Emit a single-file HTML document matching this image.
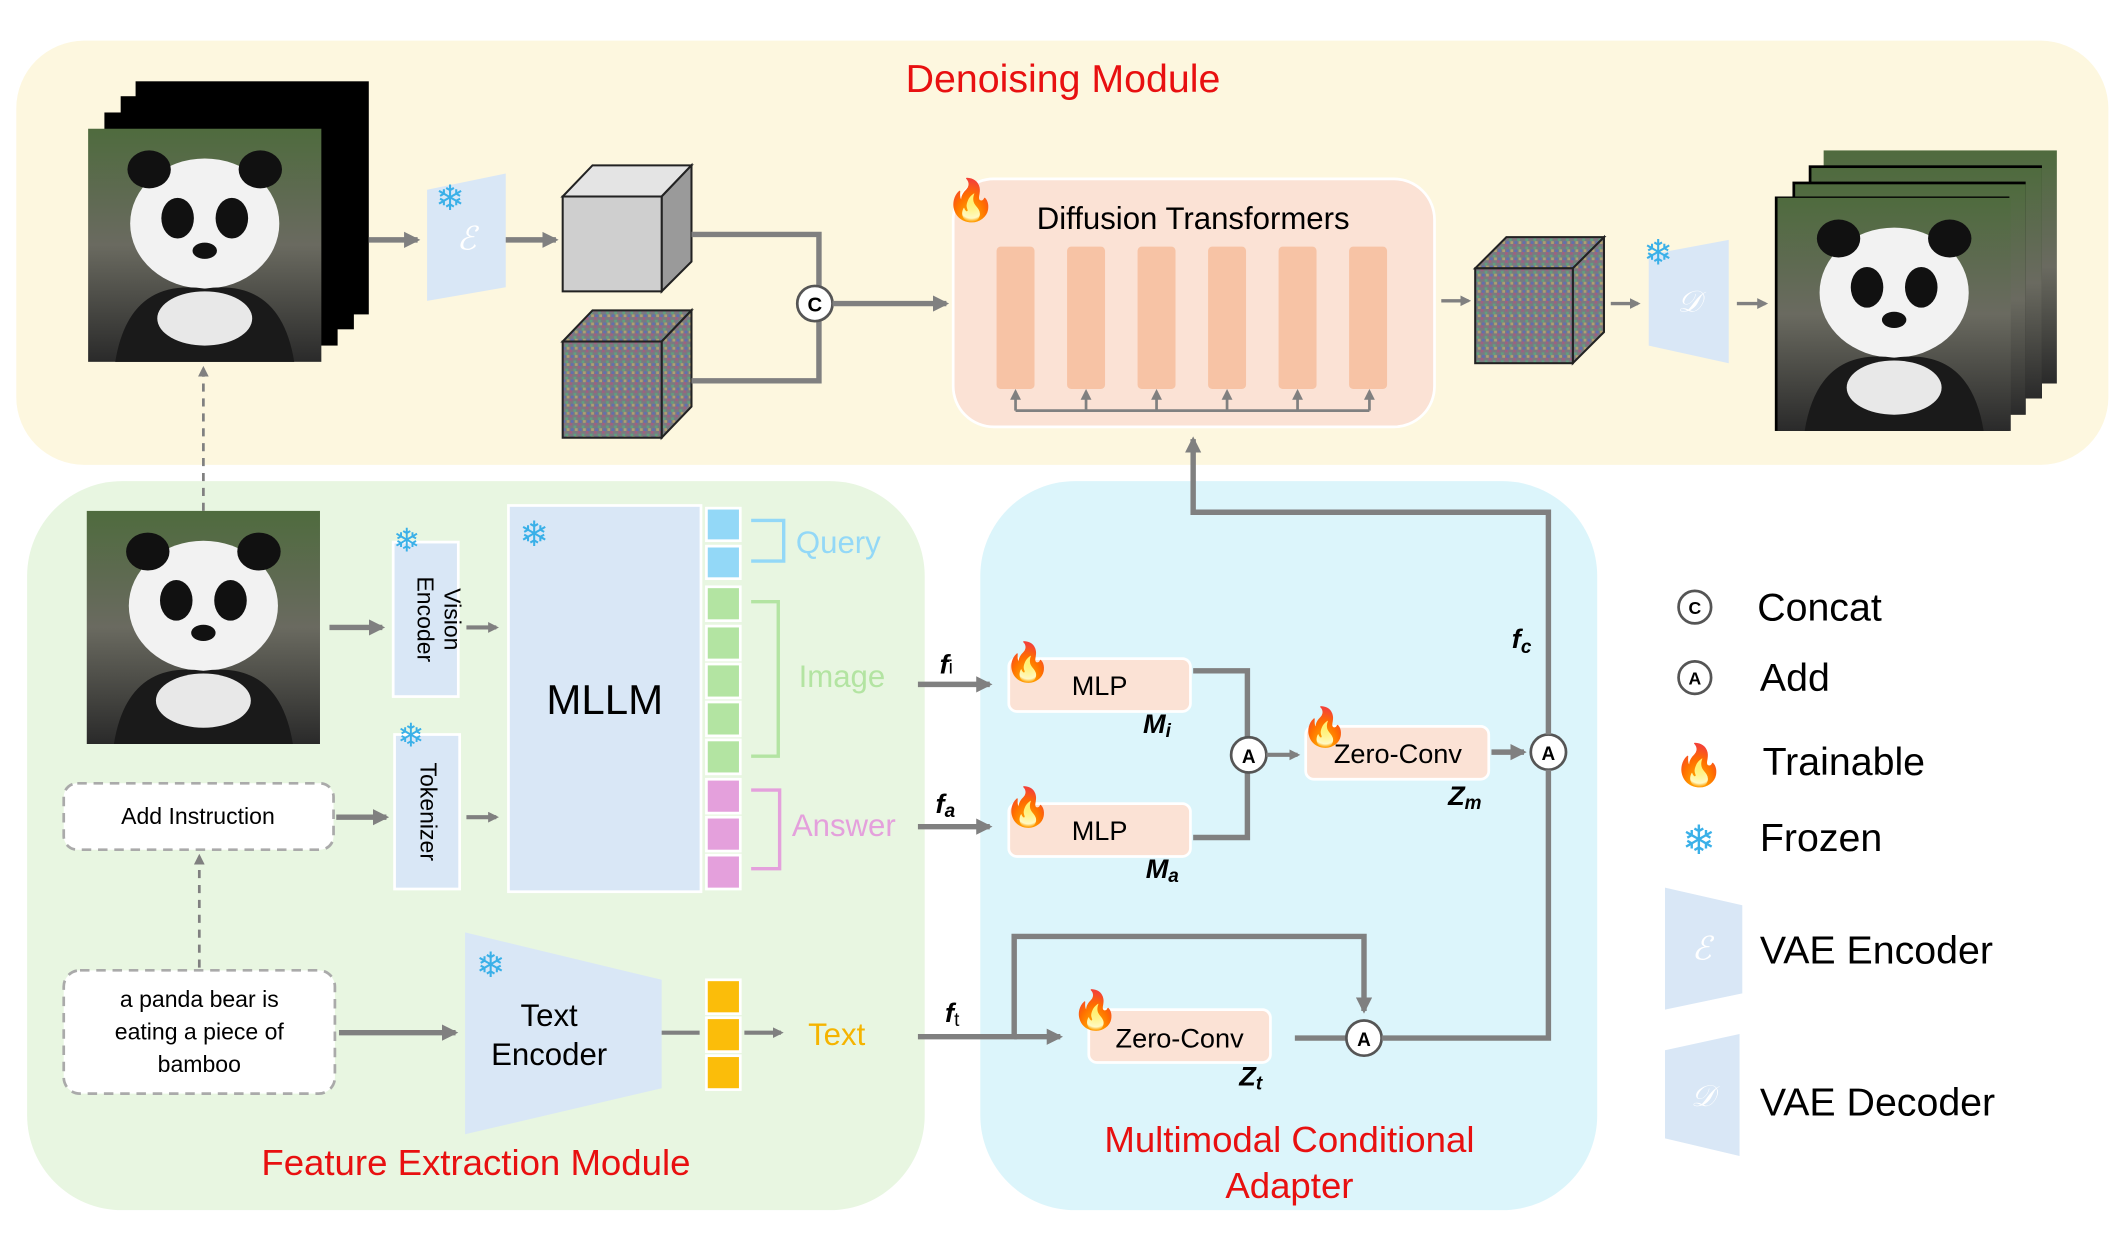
<!DOCTYPE html>
<html><head><meta charset="utf-8"><style>
html,body{margin:0;padding:0;background:#fff;}
svg{display:block}
text{font-family:"Liberation Sans",sans-serif}
</style></head><body>
<svg width="2126" height="1240" viewBox="0 0 1568 915" preserveAspectRatio="none" xmlns="http://www.w3.org/2000/svg">
<defs>
<marker id="ah" markerWidth="8" markerHeight="8" refX="6" refY="4" orient="auto" markerUnits="userSpaceOnUse"><path d="M0,0 L8,4 L0,8 z" fill="#808080"/></marker>
<marker id="ahs" markerWidth="12" markerHeight="12" refX="10" refY="6" orient="auto" markerUnits="userSpaceOnUse"><path d="M0,0 L12,6 L0,12 z" fill="#808080"/></marker>
<pattern id="noise" width="6" height="6" patternUnits="userSpaceOnUse"><rect width="6" height="6" fill="#7a7a80"/><rect x="0" y="0" width="2" height="2" fill="#a06080"/><rect x="3" y="2" width="2" height="2" fill="#60a080"/><rect x="1" y="4" width="2" height="2" fill="#6070b0"/><rect x="4" y="4" width="2" height="2" fill="#b0a070"/></pattern>
<linearGradient id="panda" x1="0" y1="0" x2="0" y2="1"><stop offset="0" stop-color="#4f6b3e"/><stop offset="0.5" stop-color="#6a6a60"/><stop offset="1" stop-color="#2a2a2a"/></linearGradient>
<g id="pandaimg">
<rect width="172" height="172" fill="url(#panda)"/>
<ellipse cx="86" cy="70" rx="55" ry="48" fill="#f2f2f2"/>
<ellipse cx="45" cy="30" rx="16" ry="14" fill="#111"/><ellipse cx="127" cy="30" rx="16" ry="14" fill="#111"/>
<ellipse cx="66" cy="66" rx="12" ry="15" fill="#111"/><ellipse cx="106" cy="66" rx="12" ry="15" fill="#111"/>
<ellipse cx="86" cy="90" rx="9" ry="6" fill="#111"/>
<path d="M20,172 Q30,110 86,118 Q142,110 152,172z" fill="#1a1a1a"/>
<ellipse cx="86" cy="140" rx="35" ry="20" fill="#e8e8e8"/>
</g>
</defs>
<!-- backgrounds -->
<rect x="12" y="30" width="1543" height="313" rx="50" fill="#fdf7df"/>
<rect x="20" y="355" width="662" height="538" rx="70" fill="#e8f6e1"/>
<rect x="723" y="355" width="455" height="538" rx="70" fill="#dcf5fb"/>
<text x="784" y="68" font-size="29" fill="#e81010" text-anchor="middle">Denoising Module</text>
<text x="351" y="867" font-size="27" fill="#e81010" text-anchor="middle">Feature Extraction Module</text>
<text x="951" y="850" font-size="27" fill="#e81010" text-anchor="middle">Multimodal Conditional</text>
<text x="951" y="884" font-size="27" fill="#e81010" text-anchor="middle">Adapter</text>

<!-- input stack -->
<rect x="100" y="60" width="172" height="172" fill="#000"/>
<rect x="89" y="71" width="172" height="172" fill="#000"/>
<rect x="77" y="83" width="172" height="172" fill="#000"/>
<use href="#pandaimg" x="65" y="95"/>
<line x1="272" y1="177" x2="308" y2="177" stroke="#808080" stroke-width="4" marker-end="url(#ahs)"/>
<polygon points="315,140 373,128 373,212 315,222" fill="#d9e7f6"/>
<text x="344" y="184" font-size="24" fill="#fff" text-anchor="middle" font-style="italic">ℰ</text>
<text x="332" y="155" font-size="26" fill="#3ab0e8" text-anchor="middle">❄</text>
<line x1="373" y1="177" x2="410" y2="177" stroke="#808080" stroke-width="4" marker-end="url(#ahs)"/>
<!-- gray cube -->
<polygon points="415,145 437,122 510,122 488,145" fill="#e4e4e4" stroke="#222" stroke-width="1.5"/>
<polygon points="488,145 510,122 510,193 488,215" fill="#9a9a9a" stroke="#222" stroke-width="1.5"/>
<rect x="415" y="145" width="73" height="70" fill="#cfcfcf" stroke="#222" stroke-width="1.5"/>
<!-- noise cube -->
<polygon points="415,252 437,229 510,229 488,252" fill="url(#noise)" stroke="#222" stroke-width="1.5"/>
<polygon points="488,252 510,229 510,300 488,323" fill="url(#noise)" stroke="#222" stroke-width="1.5"/>
<rect x="415" y="252" width="73" height="71" fill="url(#noise)" stroke="#222" stroke-width="1.5"/>
<polyline points="510,173 604,173 604,211" fill="none" stroke="#808080" stroke-width="4"/>
<polyline points="510,281 604,281 604,237" fill="none" stroke="#808080" stroke-width="4"/>
<circle cx="601" cy="224" r="13" fill="#fff" stroke="#555" stroke-width="2"/>
<text x="601" y="230" font-size="15" text-anchor="middle" font-weight="bold">C</text>
<line x1="614" y1="224" x2="698" y2="224" stroke="#808080" stroke-width="4" marker-end="url(#ahs)"/>
<!-- DiT -->
<rect x="703" y="132" width="355" height="183" rx="30" fill="#fbe2d5" stroke="#fff" stroke-width="2"/>
<text x="880" y="169" font-size="23" text-anchor="middle">Diffusion Transformers</text>
<text x="716" y="158" font-size="30" fill="#f00" text-anchor="middle">🔥</text>
<g fill="#f7c3a5">
<rect x="735" y="182" width="28" height="105" rx="3"/><rect x="787" y="182" width="28" height="105" rx="3"/><rect x="839" y="182" width="28" height="105" rx="3"/><rect x="891" y="182" width="28" height="105" rx="3"/><rect x="943" y="182" width="28" height="105" rx="3"/><rect x="995" y="182" width="28" height="105" rx="3"/>
</g>
<g stroke="#808080" stroke-width="2" fill="none">
<polyline points="749,303 1010,303"/>
<line x1="749" y1="303" x2="749" y2="289" marker-end="url(#ah)"/><line x1="801" y1="303" x2="801" y2="289" marker-end="url(#ah)"/><line x1="853" y1="303" x2="853" y2="289" marker-end="url(#ah)"/><line x1="905" y1="303" x2="905" y2="289" marker-end="url(#ah)"/><line x1="957" y1="303" x2="957" y2="289" marker-end="url(#ah)"/><line x1="1010" y1="303" x2="1010" y2="289" marker-end="url(#ah)"/>
</g>
<line x1="1063" y1="222" x2="1083" y2="222" stroke="#808080" stroke-width="2.5" marker-end="url(#ah)"/>
<polygon points="1088,198 1111,175 1183,175 1160,198" fill="url(#noise)" stroke="#222" stroke-width="1.5"/>
<polygon points="1160,198 1183,175 1183,245 1160,268" fill="url(#noise)" stroke="#222" stroke-width="1.5"/>
<rect x="1088" y="198" width="72" height="70" fill="url(#noise)" stroke="#222" stroke-width="1.5"/>
<line x1="1188" y1="224" x2="1208" y2="224" stroke="#808080" stroke-width="2.5" marker-end="url(#ah)"/>
<polygon points="1216,188 1275,177 1275,268 1216,255" fill="#d9e7f6"/>
<text x="1246" y="230" font-size="22" fill="#fff" text-anchor="middle" font-style="italic">𝒟</text>
<text x="1223" y="195" font-size="26" fill="#3ab0e8" text-anchor="middle">❄</text>
<line x1="1281" y1="224" x2="1302" y2="224" stroke="#808080" stroke-width="2.5" marker-end="url(#ah)"/>
<!-- output stack -->
<rect x="1345" y="111" width="172" height="172" fill="url(#panda)"/>
<rect x="1334" y="122" width="172" height="172" fill="#000"/><rect x="1336" y="124" width="170" height="170" fill="url(#panda)"/>
<rect x="1322" y="134" width="172" height="172" fill="#000"/><rect x="1324" y="136" width="170" height="170" fill="url(#panda)"/>
<rect x="1309" y="145" width="173" height="173" fill="#000"/>
<use href="#pandaimg" x="1311" y="146"/>

<!-- feature extraction -->
<line x1="150" y1="377" x2="150" y2="272" stroke="#808080" stroke-width="2" stroke-dasharray="6,5" marker-end="url(#ah)"/>
<use href="#pandaimg" x="64" y="377"/>
<line x1="243" y1="463" x2="282" y2="463" stroke="#808080" stroke-width="4" marker-end="url(#ahs)"/>
<rect x="290" y="400" width="48" height="114" fill="#d9e7f6" stroke="#fff" stroke-width="2"/>
<text transform="translate(308,457) rotate(90)" font-size="17" text-anchor="middle">Encoder</text>
<text transform="translate(326,457) rotate(90)" font-size="17" text-anchor="middle" dy="-2">Vision</text>
<text x="300" y="407" font-size="24" fill="#3ab0e8" text-anchor="middle">❄</text>
<line x1="344" y1="463" x2="366" y2="463" stroke="#808080" stroke-width="3" marker-end="url(#ah)"/>
<rect x="291" y="542" width="48" height="114" fill="#d9e7f6" stroke="#fff" stroke-width="2"/>
<text transform="translate(310,599) rotate(90)" font-size="17" text-anchor="middle">Tokenizer</text>
<text x="303" y="551" font-size="24" fill="#3ab0e8" text-anchor="middle">❄</text>
<line x1="344" y1="603" x2="366" y2="603" stroke="#808080" stroke-width="3" marker-end="url(#ah)"/>
<rect x="47" y="578" width="199" height="49" rx="10" fill="#fff" stroke="#aaa" stroke-width="2" stroke-dasharray="7,5"/>
<text x="146" y="608" font-size="17" text-anchor="middle">Add Instruction</text>
<line x1="248" y1="603" x2="285" y2="603" stroke="#808080" stroke-width="4" marker-end="url(#ahs)"/>
<rect x="375" y="373" width="142" height="285" fill="#d9e7f6" stroke="#fff" stroke-width="2"/>
<text x="446" y="527" font-size="31" text-anchor="middle">MLLM</text>
<text x="394" y="403" font-size="26" fill="#3ab0e8" text-anchor="middle">❄</text>
<g stroke="#fff" stroke-width="2">
<rect x="521" y="375" width="25" height="24" fill="#93d8f7"/><rect x="521" y="403" width="25" height="24" fill="#93d8f7"/>
<rect x="521" y="433" width="25" height="25" fill="#b3e4a2"/><rect x="521" y="462" width="25" height="25" fill="#b3e4a2"/><rect x="521" y="490" width="25" height="25" fill="#b3e4a2"/><rect x="521" y="518" width="25" height="25" fill="#b3e4a2"/><rect x="521" y="546" width="25" height="25" fill="#b3e4a2"/>
<rect x="521" y="575" width="25" height="25" fill="#e4a0dc"/><rect x="521" y="603" width="25" height="25" fill="#e4a0dc"/><rect x="521" y="631" width="25" height="25" fill="#e4a0dc"/>
</g>
<polyline points="554,384 578,384 578,414 554,414" fill="none" stroke="#93d8f7" stroke-width="2.5"/>
<text x="587" y="408" font-size="23" fill="#93d8f7">Query</text>
<polyline points="554,444 574,444 574,558 554,558" fill="none" stroke="#b3e4a2" stroke-width="2.5"/>
<text x="589" y="507" font-size="23" fill="#b3e4a2">Image</text>
<polyline points="554,583 575,583 575,641 554,641" fill="none" stroke="#e4a0dc" stroke-width="2.5"/>
<text x="584" y="617" font-size="23" fill="#e4a0dc">Answer</text>
<rect x="47" y="716" width="200" height="91" rx="12" fill="#fff" stroke="#aaa" stroke-width="2" stroke-dasharray="7,5"/>
<text x="147" y="743" font-size="17" text-anchor="middle">a panda bear is</text>
<text x="147" y="767" font-size="17" text-anchor="middle">eating a piece of</text>
<text x="147" y="791" font-size="17" text-anchor="middle">bamboo</text>
<line x1="147" y1="714" x2="147" y2="632" stroke="#808080" stroke-width="2" stroke-dasharray="6,5" marker-end="url(#ah)"/>
<line x1="250" y1="762" x2="336" y2="762" stroke="#808080" stroke-width="4" marker-end="url(#ahs)"/>
<polygon points="343,688 488,723 488,803 343,837" fill="#d9e7f6"/>
<text x="405" y="757" font-size="23" text-anchor="middle">Text</text>
<text x="405" y="786" font-size="23" text-anchor="middle">Encoder</text>
<text x="362" y="721" font-size="26" fill="#3ab0e8" text-anchor="middle">❄</text>
<line x1="488" y1="762" x2="516" y2="762" stroke="#808080" stroke-width="3"/>
<g stroke="#fff" stroke-width="2" fill="#fbbd0a">
<rect x="521" y="723" width="25" height="25"/><rect x="521" y="751" width="25" height="25"/><rect x="521" y="779" width="25" height="25"/>
</g>
<line x1="549" y1="762" x2="576" y2="762" stroke="#808080" stroke-width="3" marker-end="url(#ah)"/>
<text x="596" y="771" font-size="23" fill="#f5b400">Text</text>

<!-- adapter -->
<g font-family="Liberation Serif" font-style="italic" font-weight="bold" font-size="20">
<text x="693" y="497">f<tspan font-size="14" font-weight="normal" font-style="normal">i</tspan></text>
<text x="690" y="600">f<tspan font-size="14" dy="3">a</tspan></text>
<text x="697" y="754">f<tspan font-size="14" font-weight="normal" font-style="normal" dy="3">t</tspan></text>
<text x="1115" y="478">f<tspan font-size="14" dy="4">c</tspan></text>
<text x="843" y="541">M<tspan font-size="14" dy="3">i</tspan></text>
<text x="845" y="648">M<tspan font-size="14" dy="3">a</tspan></text>
<text x="1068" y="594">Z<tspan font-size="14" dy="3">m</tspan></text>
<text x="914" y="801">Z<tspan font-size="14" dy="3">t</tspan></text>
</g>
<line x1="677" y1="505" x2="730" y2="505" stroke="#808080" stroke-width="4" marker-end="url(#ahs)"/>
<line x1="677" y1="610" x2="730" y2="610" stroke="#808080" stroke-width="4" marker-end="url(#ahs)"/>
<rect x="744" y="486" width="134" height="39" rx="6" fill="#fbe2d5" stroke="#fff" stroke-width="2"/>
<text x="811" y="513" font-size="20" text-anchor="middle">MLP</text>
<text x="758" y="498" font-size="28" text-anchor="middle">🔥</text>
<rect x="744" y="593" width="134" height="39" rx="6" fill="#fbe2d5" stroke="#fff" stroke-width="2"/>
<text x="811" y="620" font-size="20" text-anchor="middle">MLP</text>
<text x="758" y="605" font-size="28" text-anchor="middle">🔥</text>
<polyline points="880,495 920,495 920,544" fill="none" stroke="#808080" stroke-width="4"/>
<polyline points="880,618 920,618 920,570" fill="none" stroke="#808080" stroke-width="4"/>
<circle cx="921" cy="557" r="13" fill="#fff" stroke="#555" stroke-width="2"/>
<text x="921" y="563" font-size="14" text-anchor="middle" font-weight="bold">A</text>
<line x1="934" y1="557" x2="957" y2="557" stroke="#808080" stroke-width="3" marker-end="url(#ah)"/>
<rect x="963" y="536" width="135" height="39" rx="6" fill="#fbe2d5" stroke="#fff" stroke-width="2"/>
<text x="1031" y="563" font-size="20" text-anchor="middle">Zero-Conv</text>
<text x="977" y="546" font-size="28" text-anchor="middle">🔥</text>
<line x1="1100" y1="555" x2="1124" y2="555" stroke="#808080" stroke-width="4" marker-end="url(#ahs)"/>
<circle cx="1142" cy="555" r="13" fill="#fff" stroke="#555" stroke-width="2"/>
<text x="1142" y="561" font-size="14" text-anchor="middle" font-weight="bold">A</text>
<polyline points="1142,542 1142,378 880,378 880,324" fill="none" stroke="#808080" stroke-width="4" marker-end="url(#ahs)"/>
<polyline points="677,765 748,765 748,691 1006,691 1006,746" fill="none" stroke="#808080" stroke-width="4" marker-end="url(#ahs)"/>
<line x1="748" y1="765" x2="782" y2="765" stroke="#808080" stroke-width="4" marker-end="url(#ahs)"/>
<rect x="803" y="745" width="134" height="39" rx="6" fill="#fbe2d5" stroke="#fff" stroke-width="2"/>
<text x="870" y="773" font-size="20" text-anchor="middle">Zero-Conv</text>
<text x="808" y="755" font-size="28" text-anchor="middle">🔥</text>
<line x1="955" y1="766" x2="993" y2="766" stroke="#808080" stroke-width="4"/>
<circle cx="1006" cy="766" r="13" fill="#fff" stroke="#555" stroke-width="2"/>
<text x="1006" y="772" font-size="14" text-anchor="middle" font-weight="bold">A</text>
<polyline points="1019,766 1142,766 1142,568" fill="none" stroke="#808080" stroke-width="4"/>

<!-- legend -->
<circle cx="1250" cy="448" r="12" fill="#fff" stroke="#555" stroke-width="2"/>
<text x="1250" y="453" font-size="13" text-anchor="middle" font-weight="bold">C</text>
<text x="1296" y="458" font-size="29">Concat</text>
<circle cx="1250" cy="500" r="12" fill="#fff" stroke="#555" stroke-width="2"/>
<text x="1250" y="505" font-size="13" text-anchor="middle" font-weight="bold">A</text>
<text x="1298" y="510" font-size="29">Add</text>
<text x="1253" y="575" font-size="30" text-anchor="middle">🔥</text>
<text x="1300" y="572" font-size="29">Trainable</text>
<text x="1253" y="630" font-size="30" fill="#3ab0e8" text-anchor="middle">❄</text>
<text x="1298" y="628" font-size="29">Frozen</text>
<polygon points="1228,655 1285,668 1285,733 1228,745" fill="#d9e7f6"/>
<text x="1255" y="708" font-size="24" fill="#fff" text-anchor="middle" font-style="italic">ℰ</text>
<text x="1298" y="711" font-size="29">VAE Encoder</text>
<polygon points="1228,775 1283,763 1283,853 1228,840" fill="#d9e7f6"/>
<text x="1256" y="816" font-size="22" fill="#fff" text-anchor="middle" font-style="italic">𝒟</text>
<text x="1298" y="823" font-size="29">VAE Decoder</text>
</svg>
</body></html>
